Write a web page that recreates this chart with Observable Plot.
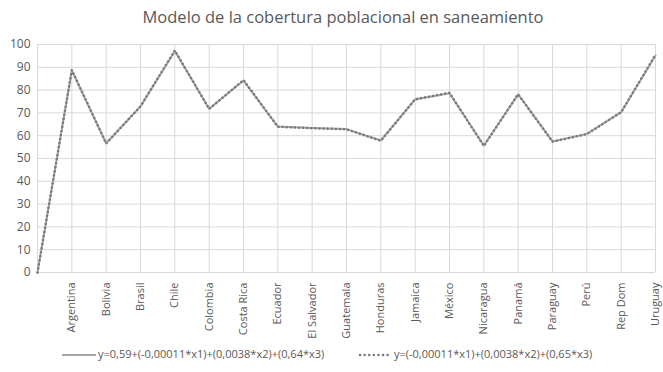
<!DOCTYPE html>
<html><head><meta charset="utf-8">
<script src="https://cdn.jsdelivr.net/npm/d3@7"></script>
<script src="https://cdn.jsdelivr.net/npm/@observablehq/plot@0.6"></script>
<style>
body{margin:0;background:#fff;font-family:"Open Sans",sans-serif;color:#595959;}
#wrap{position:relative;width:663px;height:372px;overflow:hidden;}
#title{position:absolute;top:5px;left:0;width:686px;text-align:center;font-size:16.5px;color:#595959;}
#chart{position:absolute;top:0;left:0;}
.leg{position:absolute;top:346px;font-size:11px;color:#595959;white-space:nowrap;}
.leg svg{vertical-align:middle;margin-right:2px;}
</style></head>
<body><div id="wrap">
<div id="chart"></div>
<div id="title">Modelo de la cobertura poblacional en saneamiento</div>
<div class="leg" style="left:62px"><svg width="34" height="6"><line x1="0" x2="34" y1="3" y2="3" stroke="#a6a6a6" stroke-width="2"/></svg><span id="l1"></span></div>
<div class="leg" style="left:358px"><svg width="34" height="6"><line x1="2" x2="34" y1="3" y2="3" stroke="#7a7a7a" stroke-width="2.5" stroke-dasharray="0.1,4.5" stroke-linecap="round"/></svg><span id="l2"></span></div>
</div>
<script>
const categories = ["", "Argentina", "Bolivia", "Brasil", "Chile", "Colombia", "Costa Rica", "Ecuador", "El Salvador", "Guatemala", "Honduras", "Jamaica", "México", "Nicaragua", "Panamá", "Paraguay", "Perú", "Rep Dom", "Uruguay"];
const seriesNames = ["y=0,59+(-0,00011*x1)+(0,0038*x2)+(0,64*x3)", "y=(-0,00011*x1)+(0,0038*x2)+(0,65*x3)"];
const model1 = [0, 88.6, 56.7, 72.8, 97.1, 71.8, 84.2, 64.0, 63.4, 62.9, 57.9, 75.9, 78.6, 55.7, 78.1, 57.5, 60.8, 70.3, 95.2];
const model2 = [0, 88.8, 56.6, 72.9, 97.4, 71.7, 84.4, 63.9, 63.3, 62.8, 57.8, 76.0, 78.8, 55.5, 78.2, 57.4, 60.7, 70.3, 95.5];
const yTicks = [0, 10, 20, 30, 40, 50, 60, 70, 80, 90, 100];

document.getElementById("l1").textContent = seriesNames[0];
document.getElementById("l2").textContent = seriesNames[1];

const d1 = categories.map((c, i) => ({cat: c, v: model1[i]}));
const d2 = categories.map((c, i) => ({cat: c, v: model2[i]}));

const chart = Plot.plot({
  width: 663,
  height: 340,
  marginTop: 44,
  marginBottom: 68,
  marginLeft: 37,
  marginRight: 8,
  style: {fontFamily: "Open Sans, sans-serif", fontSize: "11px", color: "#595959", background: "transparent"},
  x: {type: "point", domain: categories, padding: 0, round: false},
  y: {domain: [0, 100]},
  marks: [
    Plot.gridY(yTicks, {stroke: "#d9d9d9", strokeOpacity: 1, strokeWidth: 1}),
    Plot.gridX(categories, {stroke: "#d9d9d9", strokeOpacity: 1, strokeWidth: 1}),
    Plot.axisY(yTicks, {tickSize: 0, tickPadding: 7, fill: "#595959", fontSize: 12, label: null}),
    Plot.axisX({tickSize: 0, tickPadding: 10, tickRotate: -90, fill: "#595959", fontSize: 11, label: null}),
    Plot.line(d1, {x: "cat", y: "v", stroke: "#a6a6a6", strokeWidth: 2}),
    Plot.line(d2, {x: "cat", y: "v", stroke: "#7a7a7a", strokeWidth: 2.5, strokeDasharray: "0.1,4", strokeLinecap: "round"})
  ]
});
document.getElementById("chart").appendChild(chart);
</script>
</body></html>
